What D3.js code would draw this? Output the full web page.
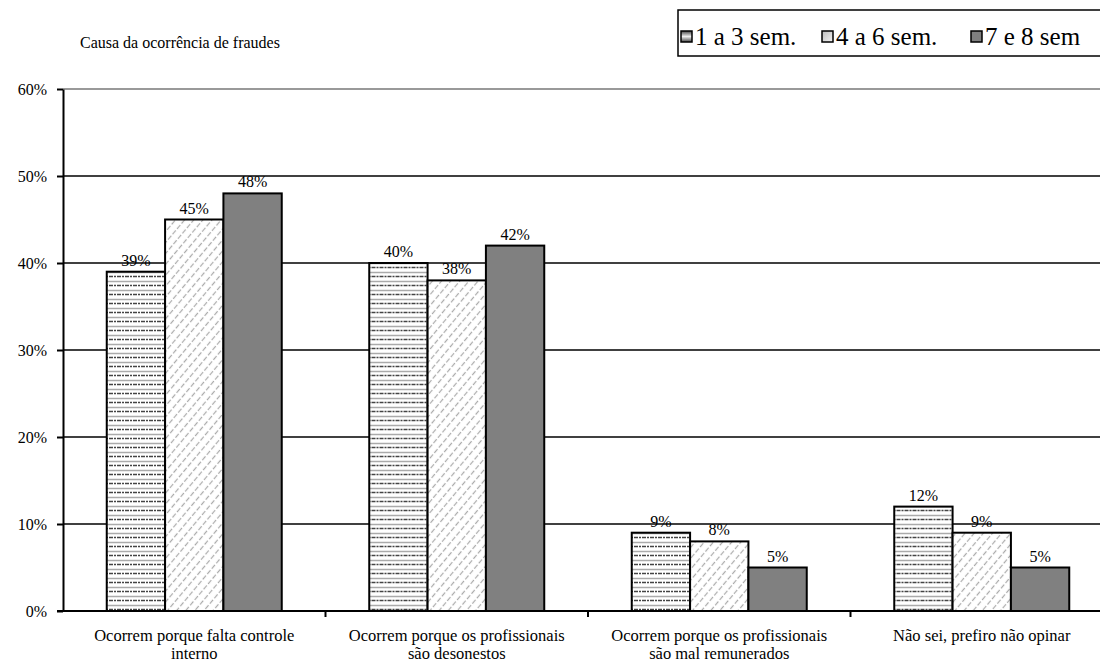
<!DOCTYPE html>
<html>
<head>
<meta charset="utf-8">
<script src="https://cdn.jsdelivr.net/npm/d3@7"></script>
<style>
  body { margin: 0; background: #fff; }
  svg { display: block; }
  text { font-family: "Liberation Serif", "Times New Roman", Times, "DejaVu Serif", serif; }
</style>
</head>
<body>
<svg id="chart" width="1100" height="668"></svg>
<script>
const categories = [
    ['Ocorrem porque falta controle', 'interno'],
    ['Ocorrem porque os profissionais', 'são desonestos'],
    ['Ocorrem porque os profissionais', 'são mal remunerados'],
    ['Não sei, prefiro não opinar']
];
const seriesNames = ['1 a 3 sem.', '4 a 6 sem.', '7 e 8 sem'];
const sem1a3 = [39, 40, 9, 12];
const sem4a6 = [45, 38, 8, 9];
const sem7e8 = [48, 42, 5, 5];
const yTicks = [0, 10, 20, 30, 40, 50, 60];

const svg = d3.select('#chart');
const width = 1100;
const serif = '"Liberation Serif", "Times New Roman", Times, "DejaVu Serif", serif';

const margin = { left: 63, top: 89, bottom: 611 };

let x0 = d3.scaleBand()
    .domain(d3.range(categories.length))
    .range([margin.left, margin.left + 262.5 * categories.length])
    .padding(0);

let x1 = d3.scaleBand()
    .domain(d3.range(seriesNames.length))
    .range([0, x0.bandwidth()])
    .paddingInner(0)
    .paddingOuter(0.75);

let y = d3.scaleLinear()
    .domain([0, 60])
    .range([margin.bottom, margin.top]);

// patterns
let defs = svg.append('defs');

let p1 = defs.append('pattern')
    .attr('id', 'pat1')
    .attr('patternUnits', 'userSpaceOnUse')
    .attr('width', 8)
    .attr('height', 9);
p1.append('rect').attr('width', 8).attr('height', 9).attr('fill', '#fff');
p1.append('line').attr('x1', 0).attr('x2', 8).attr('y1', 2.5).attr('y2', 2.5)
    .attr('stroke', '#aaa').attr('stroke-width', 1.5);
p1.append('line').attr('x1', 0).attr('x2', 8).attr('y1', 6.5).attr('y2', 6.5)
    .attr('stroke', '#444').attr('stroke-width', 1.5).attr('stroke-dasharray', '2,1');

let p2 = defs.append('pattern')
    .attr('id', 'pat2')
    .attr('patternUnits', 'userSpaceOnUse')
    .attr('width', 7)
    .attr('height', 7)
    .attr('patternTransform', 'rotate(40)');
p2.append('rect').attr('width', 7).attr('height', 7).attr('fill', '#fff');
p2.append('line').attr('x1', 3.5).attr('x2', 3.5).attr('y1', 0).attr('y2', 7)
    .attr('stroke', '#aaa').attr('stroke-width', 1.2).attr('stroke-dasharray', '4,2');

let g1 = defs.append('linearGradient').attr('id', 'leg1').attr('x1', 0).attr('x2', 0).attr('y1', 0).attr('y2', 1);
g1.append('stop').attr('offset', '0%').attr('stop-color', '#444');
g1.append('stop').attr('offset', '50%').attr('stop-color', '#eee');
g1.append('stop').attr('offset', '100%').attr('stop-color', '#444');
let g2 = defs.append('linearGradient').attr('id', 'leg2').attr('x1', 0).attr('x2', 1).attr('y1', 0).attr('y2', 1);
g2.append('stop').attr('offset', '0%').attr('stop-color', '#bbb');
g2.append('stop').attr('offset', '100%').attr('stop-color', '#f4f4f4');

const fills = ['url(#pat1)', 'url(#pat2)', '#808080'];
const legendFills = ['url(#leg1)', 'url(#leg2)', '#808080'];

// gridlines
svg.append('g')
    .selectAll('line')
    .data(yTicks.filter(d => d > 0))
    .join('line')
    .attr('x1', margin.left)
    .attr('x2', width)
    .attr('y1', d => y(d))
    .attr('y2', d => y(d))
    .attr('stroke', d => d === 60 ? '#777' : '#000')
    .attr('stroke-width', 1.5);

// y axis
let yAxis = svg.append('g')
    .attr('transform', `translate(${margin.left},0)`)
    .call(d3.axisLeft(y).tickValues(yTicks).tickFormat(d => d + '%').tickSize(6).tickSizeOuter(0));
yAxis.attr('font-family', serif);
yAxis.select('.domain').attr('stroke', '#000').attr('stroke-width', 2);
yAxis.selectAll('.tick line').attr('stroke-width', 2);
yAxis.selectAll('.tick text')
    .attr('font-family', serif)
    .attr('font-size', 16)
    .attr('x', -16)
    .attr('fill', '#000');

// bars
let data = [sem1a3, sem4a6, sem7e8];
let groups = svg.append('g')
    .selectAll('g')
    .data(categories.map((c, i) => i))
    .join('g')
    .attr('transform', i => `translate(${x0(i)},0)`);

groups.selectAll('rect')
    .data(i => data.map((s, k) => ({ k: k, value: s[i] })))
    .join('rect')
    .attr('x', d => x1(d.k))
    .attr('y', d => y(d.value))
    .attr('width', x1.bandwidth())
    .attr('height', d => y(0) - y(d.value))
    .attr('fill', d => fills[d.k])
    .attr('stroke', '#000')
    .attr('stroke-width', 2);

groups.selectAll('text.val')
    .data(i => data.map((s, k) => ({ k: k, value: s[i] })))
    .join('text')
    .attr('class', 'val')
    .attr('x', d => x1(d.k) + x1.bandwidth() / 2)
    .attr('y', d => y(d.value) - 6)
    .attr('text-anchor', 'middle')
    .attr('font-family', serif)
    .attr('font-size', 16)
    .text(d => d.value + '%');

// x axis
svg.append('line')
    .attr('x1', margin.left - 6)
    .attr('x2', width)
    .attr('y1', y(0))
    .attr('y2', y(0))
    .attr('stroke', '#000')
    .attr('stroke-width', 2);

svg.append('g')
    .selectAll('line')
    .data(d3.range(1, categories.length))
    .join('line')
    .attr('x1', i => x0(i))
    .attr('x2', i => x0(i))
    .attr('y1', y(0))
    .attr('y2', y(0) + 6)
    .attr('stroke', '#000')
    .attr('stroke-width', 2);

svg.append('g')
    .selectAll('text')
    .data(categories.map((c, i) => ({ lines: c, i: i })))
    .join('text')
    .attr('text-anchor', 'middle')
    .attr('font-family', serif)
    .attr('font-size', 16.5)
    .each(function (d) {
        d3.select(this).selectAll('tspan')
            .data(d.lines)
            .join('tspan')
            .attr('x', x0(d.i) + x0.bandwidth() / 2)
            .attr('y', (l, j) => 641 + j * 18)
            .text(l => l);
    });

// title
svg.append('text')
    .attr('x', 80)
    .attr('y', 48)
    .attr('font-family', serif)
    .attr('font-size', 16)
    .text('Causa da ocorrência de fraudes');

// legend
svg.append('rect')
    .attr('x', 678)
    .attr('y', 10)
    .attr('width', 500)
    .attr('height', 46)
    .attr('fill', 'none')
    .attr('stroke', '#000')
    .attr('stroke-width', 1.5);

const legendX = [681, 822, 971];
let legend = svg.append('g')
    .selectAll('g')
    .data(seriesNames)
    .join('g')
    .attr('transform', (d, i) => `translate(${legendX[i]},0)`);

legend.append('rect')
    .attr('x', 0)
    .attr('y', 31)
    .attr('width', 11)
    .attr('height', 11)
    .attr('fill', (d, i) => legendFills[i])
    .attr('stroke', '#000')
    .attr('stroke-width', 1.5);

legend.append('text')
    .attr('x', 14)
    .attr('y', 45)
    .attr('font-family', serif)
    .attr('font-size', 25)
    .text(d => d);
</script>
</body>
</html>
